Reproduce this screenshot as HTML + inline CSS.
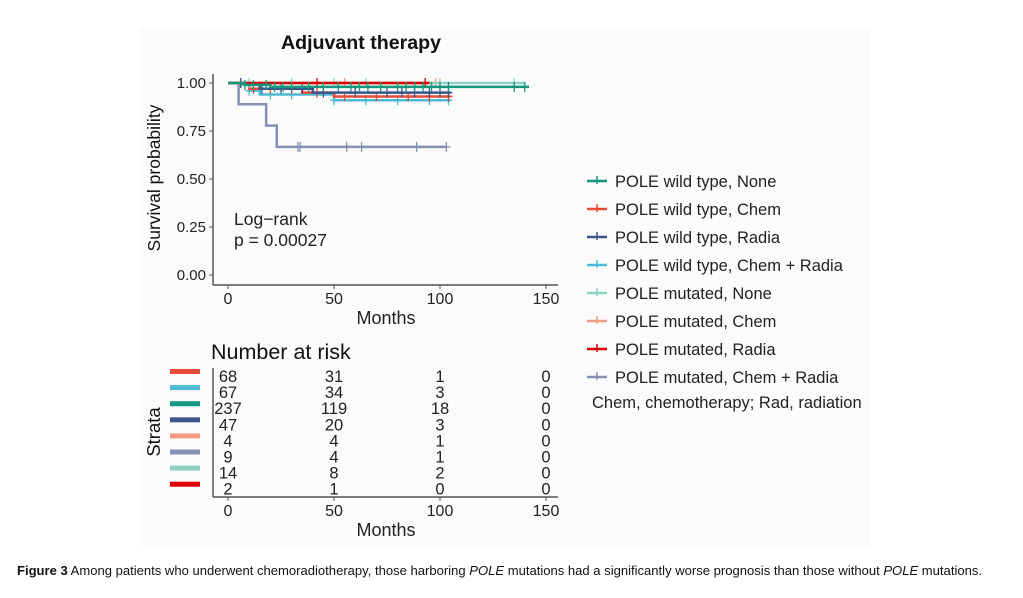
<!DOCTYPE html>
<html><head><meta charset="utf-8"><style>
body{margin:0;background:#fff;}
svg{display:block;font-family:"Liberation Sans",sans-serif;}
</style></head><body>
<svg id="fig" width="1023" height="598" viewBox="0 0 1023 598">
<rect x="140" y="28" width="730" height="518" fill="#fbfbfb"/>
<text x="361" y="49" text-anchor="middle" font-size="19" font-weight="bold" fill="#111" textLength="160" lengthAdjust="spacingAndGlyphs">Adjuvant therapy</text>
<g id="plot"></g>
<g id="legend"></g>
<g id="risk"></g>
<text x="17" y="575" font-size="12.5" fill="#111" textLength="965" lengthAdjust="spacingAndGlyphs"><tspan font-weight="bold">Figure 3</tspan> Among patients who underwent chemoradiotherapy, those harboring <tspan font-style="italic">POLE</tspan> mutations had a significantly worse prognosis than those without <tspan font-style="italic">POLE</tspan> mutations.</text>
</svg>
<script>
const seriesNames=["POLE wild type, None","POLE wild type, Chem","POLE wild type, Radia","POLE wild type, Chem + Radia","POLE mutated, None","POLE mutated, Chem","POLE mutated, Radia","POLE mutated, Chem + Radia"];
const seriesColors=["#14967f","#e64b35","#3c5488","#4dbbd5","#91d1c2","#f39b7f","#dc0000","#8491b4"];
const stepTimes=[
 [0,8,20,142],
 [0,10,35,50,105],
 [0,15,40,105],
 [0,10,15,50,105],
 [0,140],
 [0,100],
 [0,95],
 [0,5,18,23,103]
];
const stepSurv=[
 [1,0.99,0.98,0.98],
 [1,0.97,0.95,0.93,0.93],
 [1,0.97,0.95,0.95],
 [1,0.96,0.94,0.91,0.91],
 [1,1],
 [1,1],
 [1,1],
 [1,0.889,0.778,0.667,0.667]
];
const censorTimes=[
 [8,12,18,22,26,30,38,45,52,58,62,66,72,80,84,88,92,96,100,104,135,140],
 [12,20,30,42,55,70,85,95,104],
 [6,16,25,35,45,60,75,82,88,95,100,104],
 [10,20,30,50,65,80,95,104],
 [10,30,50,65,100,135],
 [55,98],
 [42,93],
 [33,34,56,63,89,103]
];
const xTicks=[0,50,100,150];
const yTicks=[0,0.25,0.5,0.75,1];
const yTickLabels=["0.00","0.25","0.50","0.75","1.00"];
const riskOrder=[1,3,0,2,5,7,4,6];
const riskValues=[[68,31,1,0],[67,34,3,0],[237,119,18,0],[47,20,3,0],[4,4,1,0],[9,4,1,0],[14,8,2,0],[2,1,0,0]];

const NS="http://www.w3.org/2000/svg";
function mk(tag,attrs,parent,txt){const e=document.createElementNS(NS,tag);for(const k in attrs)e.setAttribute(k,attrs[k]);if(txt!==undefined)e.textContent=txt;parent.appendChild(e);return e;}
const xS=t=>228+t*2.12;
const yS=s=>83+(1-s)*192;
const plot=document.getElementById('plot');
let ax=mk('line',{x1:213,y1:74,x2:213,y2:285,stroke:'#555','stroke-width':1.5},plot);


ax=mk('line',{x1:213,y1:285,x2:558,y2:285,stroke:'#555','stroke-width':1.5},plot);


yTicks.forEach((v,i)=>{
 mk('line',{x1:209,y1:yS(v),x2:213,y2:yS(v),stroke:'#555'},plot);
 const t=mk('text',{x:206,y:yS(v)+5,'text-anchor':'end','font-size':15,fill:'#222'},plot,yTickLabels[i]);
 
 
});
xTicks.forEach(v=>{
 mk('line',{x1:xS(v),y1:285,x2:xS(v),y2:289,stroke:'#555'},plot);
 const t=mk('text',{x:xS(v),y:304,'text-anchor':'middle','font-size':16,fill:'#222'},plot,String(v));
 
 
});
let t=mk('text',{x:386,y:324,'text-anchor':'middle','font-size':18,fill:'#222'},plot,'Months');


t=mk('text',{x:0,y:0,transform:'translate(160,178) rotate(-90)','text-anchor':'middle','font-size':17.5,fill:'#111'},plot,'Survival probability');


t=mk('text',{x:234,y:225,'font-size':17.5,fill:'#222'},plot,'Log\u2212rank');


t=mk('text',{x:234,y:246,'font-size':17.5,fill:'#222'},plot,'p = 0.00027');


const order=[7,3,1,2,5,4,6,0];
order.forEach(i=>{
 const tt=stepTimes[i],ss=stepSurv[i];
 let d='M'+xS(tt[0])+','+yS(ss[0]);
 for(let k=1;k<tt.length;k++){d+=' H'+xS(tt[k])+' V'+yS(ss[k]);}
 const p=mk('path',{d:d,fill:'none',stroke:seriesColors[i],'stroke-width':2.5},plot);
 
 
 censorTimes[i].forEach(c=>{
  let s=ss[0];for(let k=0;k<tt.length;k++){if(tt[k]<=c)s=ss[k];}
  const cx=xS(c),cy=yS(s);
  const m=mk('path',{d:`M${cx-4},${cy} H${cx+4} M${cx},${cy-5} V${cy+5}`,stroke:seriesColors[i],'stroke-width':1.3,fill:'none'},plot);
  
  
 });
});
const lg=document.getElementById('legend');
seriesNames.forEach((n,i)=>{
 const y=181+i*28;
 const g=mk('g',{},lg);
 
 
 mk('line',{x1:587,y1:y,x2:607,y2:y,stroke:seriesColors[i],'stroke-width':2.5},g);
 mk('line',{x1:597,y1:y-5,x2:597,y2:y+3,stroke:seriesColors[i],'stroke-width':1.5},g);
 mk('text',{x:615,y:y+6,'font-size':16.5,fill:'#222'},g,n);
});
t=mk('text',{x:592,y:408,'font-size':16.5,fill:'#222'},lg,'Chem, chemotherapy;  Rad, radiation');


const rk=document.getElementById('risk');
t=mk('text',{x:211,y:359,'font-size':21.5,fill:'#111'},rk,'Number at risk');


mk('line',{x1:213,y1:368,x2:213,y2:497,stroke:'#555','stroke-width':1.5},rk);
mk('line',{x1:213,y1:497,x2:558,y2:497,stroke:'#555','stroke-width':1.5},rk);
xTicks.forEach(v=>{
 mk('line',{x1:xS(v),y1:497,x2:xS(v),y2:501,stroke:'#555'},rk);
 const tl=mk('text',{x:xS(v),y:516,'text-anchor':'middle','font-size':16,fill:'#222'},rk,String(v));
 
 
});
t=mk('text',{x:386,y:536,'text-anchor':'middle','font-size':18,fill:'#222'},rk,'Months');


t=mk('text',{x:0,y:0,transform:'translate(160,432) rotate(-90)','text-anchor':'middle','font-size':18.5,fill:'#111'},rk,'Strata');


riskValues.forEach((row,r)=>{
 const y=376+r*16.1;
 const b=mk('rect',{x:170,y:y-7,width:30,height:5,fill:seriesColors[riskOrder[r]]},rk);
 
 
 row.forEach((v,c)=>{
  const tv=mk('text',{x:xS(xTicks[c]),y:y+6,'text-anchor':'middle','font-size':16.5,fill:'#222'},rk,String(v));
  
  
 });
});
</script>
</body></html>
